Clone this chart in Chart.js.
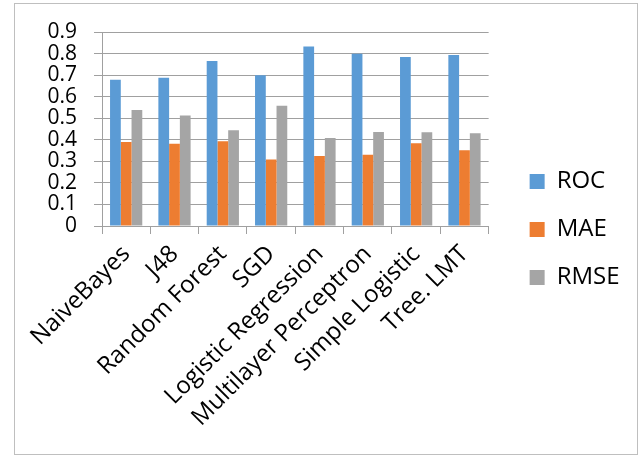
<!DOCTYPE html>
<html>
<head>
<meta charset="utf-8">
<script src="https://cdn.jsdelivr.net/npm/chart.js@4/dist/chart.umd.min.js"></script>
<style>
  body { margin: 0; background: #fff; }
  #wrap { position: relative; width: 642px; height: 456px; }
  #frame { position: absolute; left: 14px; top: 3px; width: 622px; height: 450px; border: 1px solid #bfbfbf; pointer-events: none; }
</style>
</head>
<body>
<div id="wrap">
  <canvas id="chart"></canvas>
  <div id="frame"></div>
</div>
<script>
const categories = ['NaiveBayes', 'J48', 'Random Forest', 'SGD', 'Logistic Regression', 'Multilayer Perceptron', 'Simple Logistic', 'Tree. LMT']
const rocValues = [0.678, 0.688, 0.765, 0.699, 0.833, 0.799, 0.784, 0.793]
const maeValues = [0.390, 0.382, 0.393, 0.309, 0.325, 0.331, 0.384, 0.351]
const rmseValues = [0.538, 0.513, 0.444, 0.558, 0.408, 0.436, 0.435, 0.430]
const yMax = 0.9
const yStep = 0.1

const FONT = '"Open Sans", sans-serif'
const GRID = '#a0a0a0'

new Chart('chart', {
  type: 'bar',
  data: {
    labels: categories,
    datasets: [
      { label: 'ROC', data: rocValues, backgroundColor: '#5b9bd5' },
      { label: 'MAE', data: maeValues, backgroundColor: '#ed7d31' },
      { label: 'RMSE', data: rmseValues, backgroundColor: '#a5a5a5' },
    ].map(d => ({ ...d, barPercentage: 1, categoryPercentage: 0.667 })),
  },
  options: {
    responsive: true,
    maintainAspectRatio: false,
    animation: false,
    layout: { padding: { top: 32, bottom: 29, left: 0, right: 0 } },
    plugins: {
      legend: {
        position: 'right',
        align: 'center',
        labels: {
          boxWidth: 15,
          boxHeight: 15,
          padding: 24,
          color: '#000',
          font: { family: FONT, size: 24 },
          // the legend clips to its own box, so leave room after the text
          generateLabels: chart => Chart.defaults.plugins.legend.labels.generateLabels(chart)
            .map(item => ({ ...item, text: item.text + '  ' })),
        },
      },
      tooltip: { enabled: false },
    },
    scales: {
      x: {
        grid: { display: true, drawOnChartArea: false, color: GRID, tickLength: 8, offset: true },
        border: { color: GRID },
        ticks: {
          color: '#000',
          font: { family: FONT, size: 24 },
          minRotation: 45,
          maxRotation: 45,
          padding: 6,
          autoSkip: false,
        },
        afterFit: s => { s.height = 201 },
      },
      y: {
        min: 0,
        max: yMax,
        ticks: {
          stepSize: yStep,
          autoSkip: false,
          color: '#000',
          font: { family: FONT, size: 21 },
          padding: 17,
          callback: v => String(Number(v.toFixed(1))),
        },
        grid: { color: GRID, tickLength: 8 },
        border: { color: GRID },
        afterFit: s => { s.width = 102 },
      },
      // empty spacer between plot and legend
      gap: {
        type: 'linear',
        position: 'right',
        display: false,
        afterFit: s => { s.width = 17 },
      },
    },
  },
})
</script>
</body>
</html>
